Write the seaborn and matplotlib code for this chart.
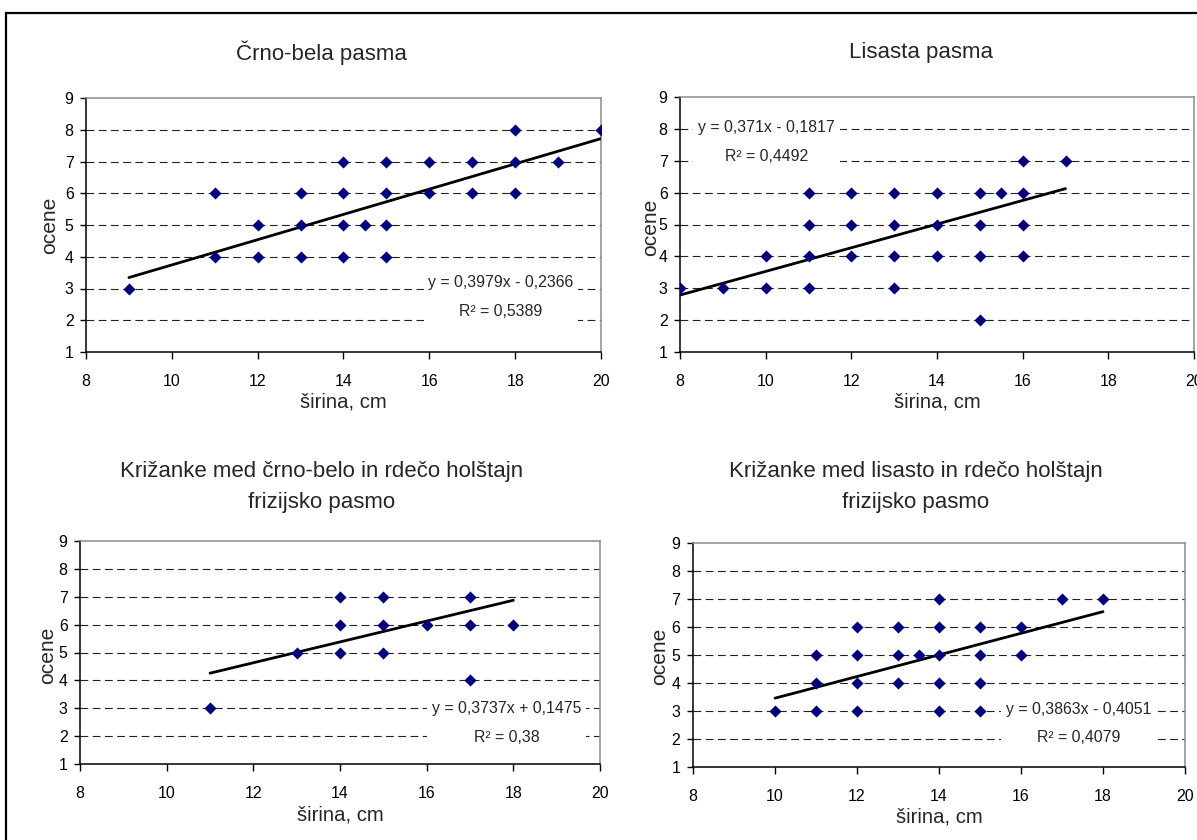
import numpy as np
import pandas as pd
import seaborn as sns
import matplotlib.pyplot as plt
from matplotlib import font_manager
from matplotlib.patches import Rectangle

# podatki, odcitani s slike
crno_x = [9, 11, 11, 12, 12, 13, 13, 13, 14, 14, 14, 14, 14.5, 15, 15, 15, 15, 16, 16, 17, 17, 18, 18, 18, 19, 20]
crno_y = [3, 4, 6, 4, 5, 4, 5, 6, 4, 5, 6, 7, 5, 4, 5, 6, 7, 6, 7, 6, 7, 6, 7, 8, 7, 8]

lis_x = [8, 9, 10, 10, 11, 11, 11, 11, 12, 12, 12, 13, 13, 13, 13, 14, 14, 14, 15, 15, 15, 15, 15.5, 16, 16, 16, 16, 17]
lis_y = [3, 3, 3, 4, 3, 4, 5, 6, 4, 5, 6, 3, 4, 5, 6, 4, 5, 6, 2, 4, 5, 6, 6, 4, 5, 6, 7, 7]

kr1_x = [11, 13, 14, 14, 14, 15, 15, 15, 16, 17, 17, 17, 18]
kr1_y = [3, 5, 5, 6, 7, 5, 6, 7, 6, 4, 6, 7, 6]

kr2_x = [10, 11, 11, 11, 12, 12, 12, 12, 13, 13, 13, 13.5, 14, 14, 14, 14, 14, 15, 15, 15, 15, 16, 16, 17, 18]
kr2_y = [3, 3, 4, 5, 3, 4, 5, 6, 4, 5, 6, 5, 3, 4, 5, 6, 7, 3, 4, 5, 6, 5, 6, 7, 7]

naslovi = ["Črno-bela pasma",
           "Lisasta pasma",
           "Križanke med črno-belo in rdečo holštajn\nfrizijsko pasmo",
           "Križanke med lisasto in rdečo holštajn\nfrizijsko pasmo"]
naklon = [0.3979, 0.371, 0.3737, 0.3863]
presecisce = [-0.2366, -0.1817, 0.1475, -0.4051]
enacbe = ["y = 0,3979x - 0,2366", "y = 0,371x - 0,1817", "y = 0,3737x + 0,1475", "y = 0,3863x - 0,4051"]
r2 = ["R² = 0,5389", "R² = 0,4492", "R² = 0,38", "R² = 0,4079"]
enacba_xy = [(17.67, 2.73), (10.02, 7.58), (17.85, 2.46), (17.4, 2.55)]

x_ticks = [8, 10, 12, 14, 16, 18, 20]
y_ticks = [1, 2, 3, 4, 5, 6, 7, 8, 9]

sns.set_style('white')
imena = {f.name for f in font_manager.fontManager.ttflist}
if 'Liberation Sans Narrow' in imena:
    fam, k = 'Liberation Sans Narrow', 1.0
else:
    fam, k = 'Liberation Sans', 0.82
plt.rcParams['font.family'] = [fam, 'DejaVu Sans']

W, H = 1197, 840
fig = plt.figure(figsize=(W / 100, H / 100), dpi=100)

# polozaji osi v pikslih: levo, desno, zgoraj, spodaj
okvirji = [(86, 601, 98, 352), (680, 1194, 97, 352), (80, 600, 541, 764), (693, 1185, 543, 767)]
naslov_pos = [(0.458, 1.18), (0.469, 1.176), (0.465, 1.242), (0.453, 1.25)]
ylab_pos = [(-0.070, 0.5), (-0.058, 0.49), (-0.0615, 0.489), (-0.067, 0.496)]
xlab_y = [-0.197, -0.196, -0.229, -0.223]

podatki = [(crno_x, crno_y), (lis_x, lis_y), (kr1_x, kr1_y), (kr2_x, kr2_y)]

for i, (xs, ys) in enumerate(podatki):
    l, r, t, b = okvirji[i]
    ax = fig.add_axes([l / W, 1 - b / H, (r - l) / W, (b - t) / H])
    df = pd.DataFrame({'sirina': xs, 'ocene': ys})
    sns.scatterplot(data=df, x='sirina', y='ocene', marker='D', s=38,
                    color='#000080', edgecolor='#000080', linewidth=0, ax=ax, zorder=4)
    xx = np.array([min(xs), max(xs)])
    trend = pd.DataFrame({'x': xx, 'y': naklon[i] * xx + presecisce[i]})
    sns.lineplot(data=trend, x='x', y='y', color='black', lw=2.0, ax=ax, zorder=3)

    ax.set_xlim(8, 20)
    ax.set_ylim(1, 9)
    ax.set_xticks(x_ticks)
    ax.set_yticks(y_ticks)
    ax.set_xlabel('')
    ax.set_ylabel('')
    ax.tick_params(axis='both', labelsize=14 * k, colors='black')
    ax.tick_params(axis='y', direction='out', length=4, width=1, pad=5, left=True)
    ax.tick_params(axis='x', direction='out', length=5, width=1, pad=11, bottom=True)

    ax.set_axisbelow(True)
    ax.grid(axis='y', color='#222222', linestyle=(0, (7, 4)), lw=0.8)
    ax.grid(axis='x', visible=False)
    gl = ax.get_ygridlines()
    gl[0].set_visible(False)
    gl[-1].set_visible(False)
    for s in ['left', 'bottom']:
        ax.spines[s].set_color('black')
        ax.spines[s].set_linewidth(1.1)
    for s in ['top', 'right']:
        ax.spines[s].set_color('#8c8c8c')
        ax.spines[s].set_linewidth(1.1)

    ex, ey = enacba_xy[i]
    ax.text(ex, ey, enacbe[i] + '\n' + r2[i], ha='center', va='center',
            fontsize=13.9 * k, linespacing=2.15, zorder=3,
            bbox=dict(boxstyle='square,pad=0.3', fc='white', ec='none'))

    tx, ty = naslov_pos[i]
    ax.text(tx, ty, naslovi[i], transform=ax.transAxes, ha='center', va='center',
            fontsize=19.5 * k, linespacing=1.6)
    lx, ly = ylab_pos[i]
    ax.text(lx, ly, 'ocene', transform=ax.transAxes, ha='center', va='center',
            rotation=90, fontsize=18.5 * k)
    ax.text(0.5, xlab_y[i], 'širina, cm', transform=ax.transAxes, ha='center',
            va='center', fontsize=17.8 * k)

fig.add_artist(Rectangle((6 / W, -0.1), 1.2, 1 - 13 / H + 0.1, transform=fig.transFigure,
                         fill=False, ec='black', lw=1.6))

fig.savefig('out.png', dpi=100)
